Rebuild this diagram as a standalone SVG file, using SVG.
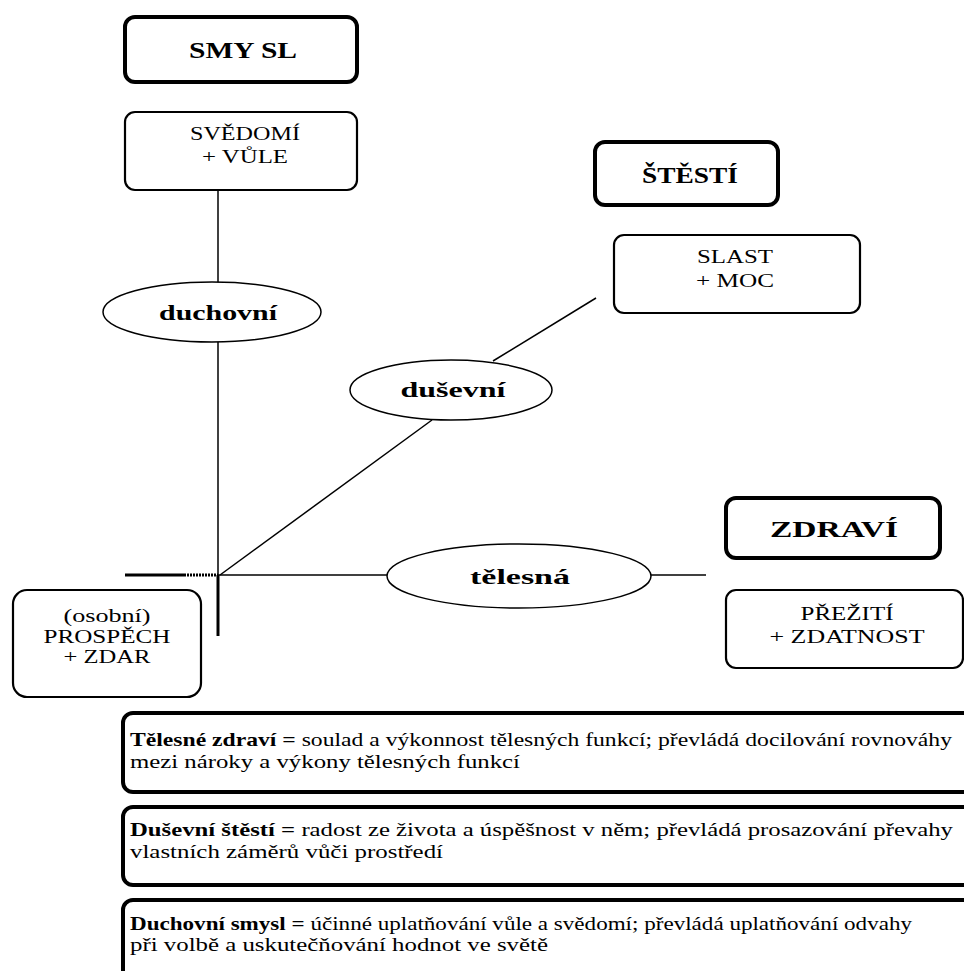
<svg xmlns="http://www.w3.org/2000/svg" width="964" height="971" viewBox="0 0 964 971">
<style>
.thick{fill:#fff;stroke:#000;stroke-width:4}
.thin{fill:#fff;stroke:#000;stroke-width:2.2}
.ell{fill:#fff;stroke:#000;stroke-width:1.5}
.t{font-family:"Liberation Serif","Times New Roman",serif;fill:#000}
.h{font-size:24px;font-weight:bold;text-anchor:middle}
.b{font-size:19px;text-anchor:middle}
.e{font-size:21px;font-weight:bold;text-anchor:middle}
.d{font-size:19px}
.bd{font-weight:bold}
.ln{stroke:#000;stroke-width:1.5;fill:none}
.lk{stroke:#000;stroke-width:3;fill:none}
</style>
<rect width="964" height="971" fill="#fff"/>
<g id="connectors">
<line class="ln" x1="218" y1="190" x2="218" y2="575"/>
<line class="lk" x1="218" y1="575" x2="218" y2="636"/>
<line class="lk" x1="125" y1="575" x2="184" y2="575"/>
<line class="lk" x1="184" y1="575" x2="218" y2="575" stroke-dasharray="2 1"/>
<line class="ln" x1="218" y1="575" x2="706" y2="575"/>
<line class="ln" x1="220" y1="575" x2="432" y2="420"/>
<line class="ln" x1="493" y1="361" x2="596" y2="298"/>
</g>
<g id="smysl"><rect class="thick" x="125" y="17" width="232" height="65" rx="10"/><text class="t h" x="243" y="58" textLength="108" lengthAdjust="spacingAndGlyphs">SMY SL</text></g>
<g id="svedomi"><rect class="thin" x="125" y="112" width="232" height="78" rx="10"/><text class="t b" x="245" y="140" textLength="110" lengthAdjust="spacingAndGlyphs">SVĚDOMÍ</text><text class="t b" x="245" y="163" textLength="86" lengthAdjust="spacingAndGlyphs">+ VŮLE</text></g>
<g id="duchovni"><ellipse class="ell" cx="212" cy="312" rx="109" ry="30"/><text class="t e" x="218" y="320" textLength="118" lengthAdjust="spacingAndGlyphs">duchovní</text></g>
<g id="stesti"><rect class="thick" x="595" y="142" width="183" height="63" rx="10"/><text class="t h" x="690" y="183" textLength="96" lengthAdjust="spacingAndGlyphs">ŠTĚSTÍ</text></g>
<g id="slast"><rect class="thin" x="614" y="235" width="246" height="78" rx="10"/><text class="t b" x="735" y="263" textLength="76" lengthAdjust="spacingAndGlyphs">SLAST</text><text class="t b" x="735" y="287" textLength="78" lengthAdjust="spacingAndGlyphs">+ MOC</text></g>
<g id="dusevni"><ellipse class="ell" cx="451" cy="390" rx="101" ry="30"/><text class="t e" x="453" y="397" textLength="105" lengthAdjust="spacingAndGlyphs">duševní</text></g>
<g id="telesna"><ellipse class="ell" cx="519" cy="576" rx="132" ry="32"/><text class="t e" x="520" y="584" textLength="100" lengthAdjust="spacingAndGlyphs">tělesná</text></g>
<g id="zdravi"><rect class="thick" x="726" y="498" width="214" height="60" rx="10"/><text class="t h" x="834" y="537" textLength="128" lengthAdjust="spacingAndGlyphs">ZDRAVÍ</text></g>
<g id="prezit"><rect class="thin" x="726" y="590" width="237" height="78" rx="10"/><text class="t b" x="847" y="620" textLength="93" lengthAdjust="spacingAndGlyphs">PŘEŽITÍ</text><text class="t b" x="847" y="643" textLength="155" lengthAdjust="spacingAndGlyphs">+ ZDATNOST</text></g>
<g id="prospech"><rect class="thin" x="13" y="590" width="188" height="107" rx="14"/><text class="t b" x="107" y="622" textLength="87" lengthAdjust="spacingAndGlyphs">(osobní)</text><text class="t b" x="107" y="643" textLength="127" lengthAdjust="spacingAndGlyphs">PROSPĚCH</text><text class="t b" x="107" y="663" textLength="87" lengthAdjust="spacingAndGlyphs">+ ZDAR</text></g>
<g id="def1"><rect class="thick" x="123" y="713" width="850" height="79" rx="10"/>
<text class="t d" x="130" y="746" textLength="822" lengthAdjust="spacingAndGlyphs"><tspan class="bd">Tělesné zdraví =</tspan> soulad a výkonnost tělesných funkcí; převládá docilování rovnováhy</text>
<text class="t d" x="130" y="768" textLength="390" lengthAdjust="spacingAndGlyphs">mezi nároky a výkony tělesných funkcí</text></g>
<g id="def2"><rect class="thick" x="123" y="807" width="850" height="78" rx="10"/>
<text class="t d" x="130" y="836" textLength="823" lengthAdjust="spacingAndGlyphs"><tspan class="bd">Duševní štěstí =</tspan> radost ze života a úspěšnost v něm; převládá prosazování převahy</text>
<text class="t d" x="130" y="858" textLength="313" lengthAdjust="spacingAndGlyphs">vlastních záměrů vůči prostředí</text></g>
<g id="def3"><rect class="thick" x="123" y="900" width="850" height="90" rx="10"/>
<text class="t d" x="130" y="930" textLength="782" lengthAdjust="spacingAndGlyphs"><tspan class="bd">Duchovní smysl =</tspan> účinné uplatňování vůle a svědomí; převládá uplatňování odvahy</text>
<text class="t d" x="130" y="951" textLength="418" lengthAdjust="spacingAndGlyphs">při volbě a uskutečňování hodnot ve světě</text></g>
</svg>
